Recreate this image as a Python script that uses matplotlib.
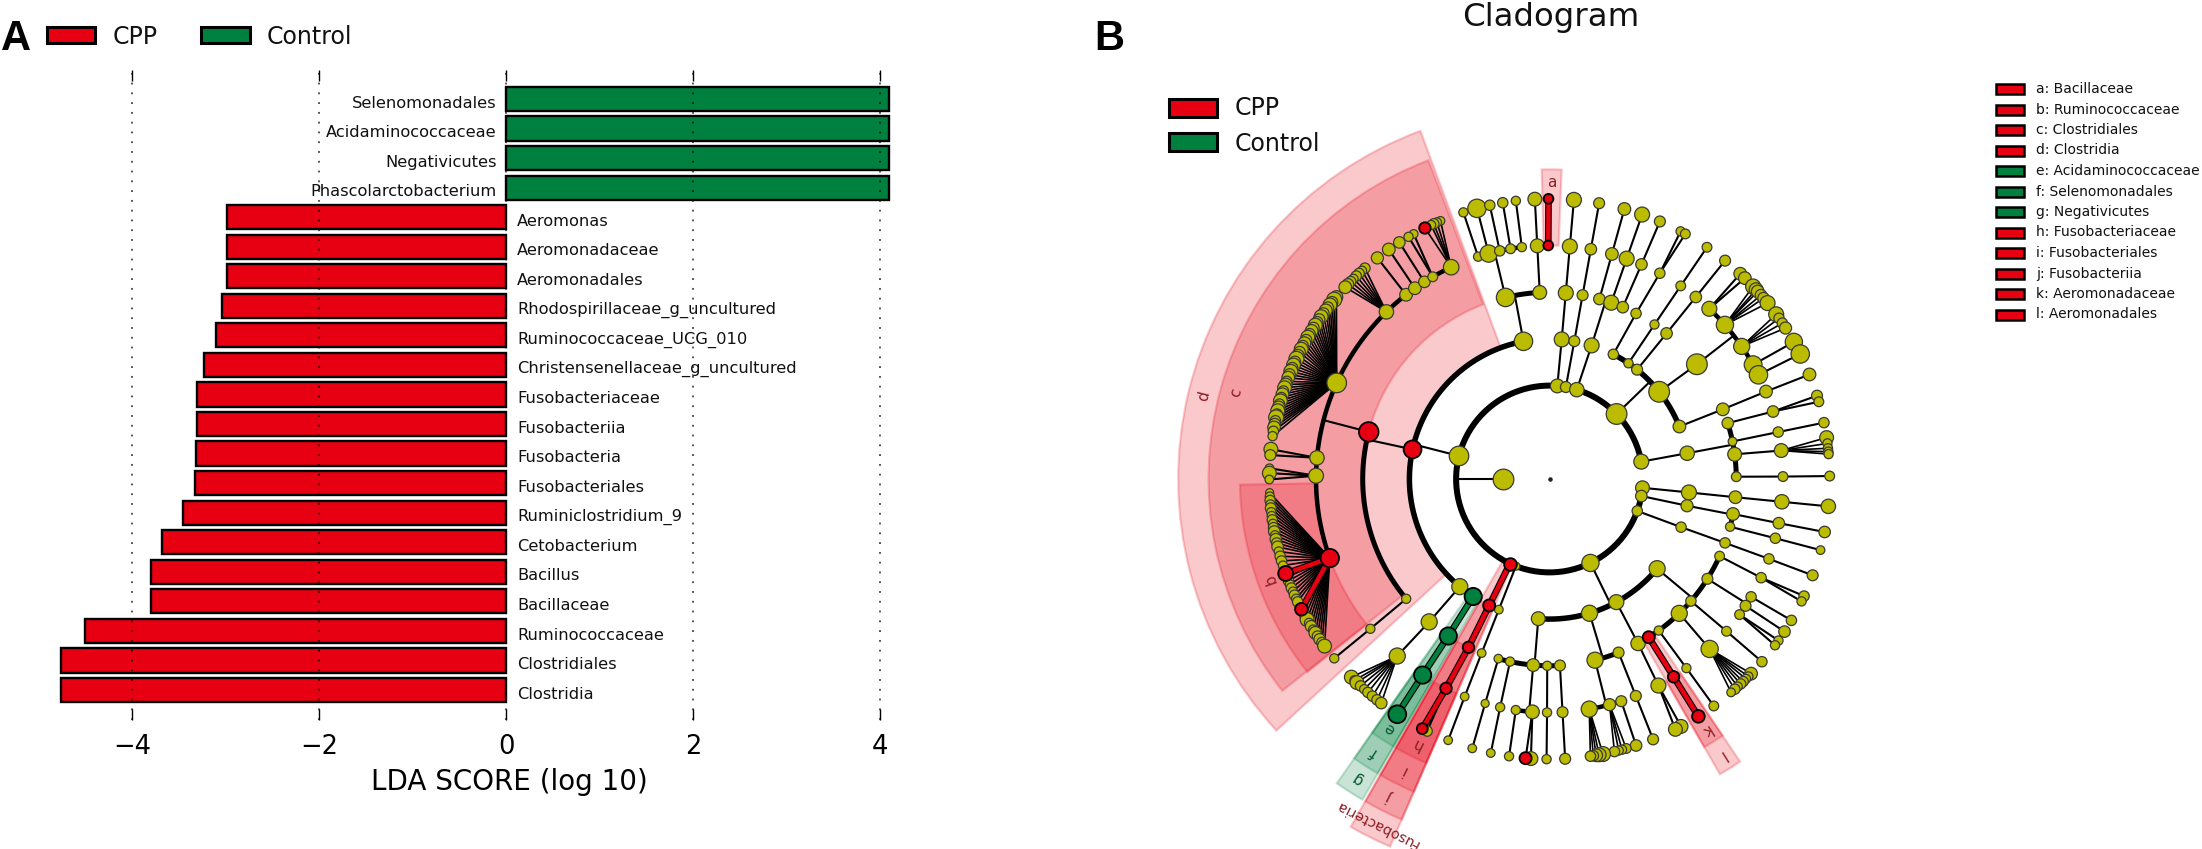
import numpy as np
import matplotlib
matplotlib.use("Agg")
import matplotlib.pyplot as plt
from matplotlib.patches import Rectangle

W, H = 2202, 849
RED, GREEN, OLIVE = "#e60012", "#00803e", "#bbbb00"

# ---------- Panel A: LDA scores ----------
bar_labels = ["Clostridia", "Clostridiales", "Ruminococcaceae", "Bacillaceae", "Bacillus",
              "Cetobacterium", "Ruminiclostridium_9", "Fusobacteriales", "Fusobacteria",
              "Fusobacteriia", "Fusobacteriaceae", "Christensenellaceae_g_uncultured",
              "Ruminococcaceae_UCG_010", "Rhodospirillaceae_g_uncultured", "Aeromonadales",
              "Aeromonadaceae", "Aeromonas", "Phascolarctobacterium", "Negativicutes",
              "Acidaminococcaceae", "Selenomonadales"]
bar_values = [-4.76, -4.76, -4.51, -3.80, -3.80, -3.68, -3.46, -3.33, -3.32, -3.31, -3.31,
              -3.23, -3.11, -3.04, -2.99, -2.99, -2.99, 4.09, 4.09, 4.09, 4.09]
x_ticks = [-4, -2, 0, 2, 4]
group_names = ["CPP", "Control"]

# ---------- Panel B: cladogram, one table per ring ----------
# (clockwise angle from the top in degrees, parent index on the inner ring, node diameter, class)
ring1 = [(-90, 0, 18)]
ring2 = [(95.4, 0, 12), (100.5, 0, 10), (110, 0, 9), (154, 0, 15), (201.1, 0, 7),
         (205.1, 0, 11, 'r'), (284.3, 0, 17), (364.8, 0, 12), (370.1, 0, 9.5), (377, 0, 12.5),
         (405.9, 0, 18), (439.3, 0, 13)]
ring3 = [(95.5, 0, 13), (101, 1, 10.5), (110.1, 2, 9), (129.8, 3, 14), (151.5, 3, 13), (163.4, 3, 14),
         (184.6, 3, 12), (-158.8, 4, 7.5), (-154.5, 5, 10.5, 'r'), (-147, 6, 15, 'g'), (-140.2, 6, 14),
         (-77.8, 6, 15.5, 'r'), (-10.7, 6, 16), (5, 7, 13), (10.2, 8, 9.5), (17.5, 9, 13), (27.1, 10, 9),
         (34.3, 10, 8), (38.7, 10, 9.5), (51.5, 10, 18), (68, 10, 11), (79.4, 11, 12.5)]
ring4 = [(95.6, 0, 11), (100.8, 1, 11), (104.8, 1, 8), (110, 2, 9), (114.4, 3, 8.5), (122.3, 3, 9.5),
         (130.8, 3, 9), (136, 3, 14), (144.2, 3, 8), (147.9, 3, 10.5, 'r'), (151.7, 4, 12.5), (158.3, 5, 9.5),
         (165.9, 5, 14), (176.8, 6, 9.5), (180.7, 6, 8), (185, 6, 11), (192.2, 6, 8), (195.9, 6, 7.5),
         (-158.7, 7, 7.5), (-154.3, 8, 10, 'r'), (-147.2, 9, 15, 'g'), (-139.9, 10, 14), (-129.9, 11, 8),
         (-75.4, 11, 17, 'r'), (-13.6, 12, 16), (-3, 12, 12), (5, 13, 13), (10.2, 14, 9.5), (15.5, 15, 10),
         (19.3, 15, 13), (23.1, 15, 10), (27.6, 16, 9), (34.2, 17, 8), (38.8, 18, 10), (52.1, 19, 18),
         (68.1, 20, 11), (72.6, 21, 10), (78.4, 21, 7.5), (82.4, 21, 12), (89.3, 21, 8.5)]
ring5 = [(95.6, 0, 12.5), (100.9, 1, 10), (104.7, 2, 9), (110, 3, 9), (115, 4, 9), (120.3, 5, 9),
         (122.9, 5, 9.5), (125.5, 5, 8.5), (130.7, 6, 8.5), (136.7, 7, 15), (144.1, 8, 8), (147.9, 9, 10, 'r'),
         (152.2, 10, 13), (158.3, 11, 9.5), (162.1, 12, 9.5), (165.1, 12, 10.5), (170.2, 12, 14),
         (176.8, 13, 9.5), (180.6, 14, 8), (184.2, 15, 12), (188.3, 15, 8), (192.2, 16, 8), (196, 17, 7),
         (-158.7, 18, 7.5), (-153.7, 19, 10, 'r'), (-147.1, 20, 15, 'g'), (-139.3, 21, 14), (-129.9, 22, 8),
         (-109.8, 23, 16, 'r'), (-89.2, 23, 13), (-84.8, 23, 12.5), (-65.7, 23, 17), (-44.3, 23, 12.5),
         (-37.9, 23, 11), (-35.2, 23, 11), (-32.4, 23, 10), (-30, 23, 8.5), (-24.9, 23, 13.5),
         (-17.8, 24, 8), (-15.1, 24, 15), (-12.3, 24, 9), (-9.6, 24, 8.5), (-6.8, 24, 8), (-3, 25, 12),
         (-0.3, 25, 8.5, 'r'), (5, 26, 13), (10.2, 27, 10), (15.5, 28, 11), (19.3, 29, 13), (23.2, 30, 10),
         (28.2, 31, 9), (34.2, 32, 8.5), (38.8, 33, 10), (43.2, 34, 13), (48.7, 34, 15), (55.4, 34, 14),
         (60.7, 34, 15.5), (63.5, 34, 16), (68, 35, 11), (73.2, 36, 10), (78.4, 37, 9), (83, 38, 12),
         (89.4, 39, 8.5)]
ring6_a = [(95.6, 0, 12.5), (100.9, 1, 10), (104.7, 2, 7.5), (110.1, 3, 9.5), (114.7, 4, 9), (115.9, 4, 8),
           (120.3, 5, 9), (123, 6, 10), (125.2, 7, 8), (126.4, 7, 8), (130.7, 8, 9),
           (134, 9, 11), (134.8, 9, 8), (135.5, 9, 8), (136.3, 9, 9), (137, 9, 9), (137.8, 9, 8), (138.6, 9, 9),
           (139.6, 9, 7.5), (144.1, 10, 8.5), (147.9, 11, 11, 'r'), (152, 12, 12), (153.3, 12, 12),
           (158.3, 13, 9.5), (162, 14, 10), (164.1, 15, 8.5), (165, 15, 8), (165.7, 15, 8), (166.6, 15, 9),
           (169, 16, 13), (169.8, 16, 12), (170.4, 16, 11), (171, 16, 9), (171.6, 16, 9), (176.8, 17, 9.5),
           (180.6, 18, 8), (183.8, 19, 12), (184.9, 19, 10.5, 'r'), (188.3, 20, 8), (192.1, 21, 7.5),
           (196, 22, 7.5), (-158.8, 23, 7.5), (-154.1, 24, 9), (-153, 24, 9.5, 'r'), (-147.1, 25, 15.5, 'g'),
           (-135, 26, 12), (-135.9, 26, 8), (-136.6, 26, 12), (-137.6, 26, 9), (-138.6, 26, 8), (-139.6, 26, 9),
           (-140.8, 26, 9), (-142, 26, 9), (-143.1, 26, 10), (-129.8, 27, 8)]
ring6_b = [(-92.8, 28, 7), (-93.6, 28, 8), (-94.4, 28, 9), (-95.2, 28, 8), (-96, 28, 9.5), (-96.8, 28, 8),
           (-97.6, 28, 8), (-98.4, 28, 9), (-99.2, 28, 8), (-100, 28, 9), (-100.8, 28, 10), (-101.6, 28, 8),
           (-102.4, 28, 10), (-103.2, 28, 9), (-104, 28, 10), (-105, 28, 8), (-106, 28, 9), (-107, 28, 9),
           (-108, 28, 8), (-110.5, 28, 8), (-111.3, 28, 9), (-112.1, 28, 8), (-112.9, 28, 9), (-113.7, 28, 8),
           (-114.5, 28, 9), (-115.3, 28, 8), (-116, 28, 9), (-118.5, 28, 8), (-119.3, 28, 9), (-120.1, 28, 12),
           (-120.9, 28, 8), (-121.7, 28, 10), (-122.5, 28, 8), (-123.3, 28, 11), (-124.1, 28, 9),
           (-124.9, 28, 10), (-125.7, 28, 9), (-126.6, 28, 12), (-109.7, 28, 13, 'r'), (-117.7, 28, 11, 'r')]
ring6_c = [(-49.5, 31, 11), (-50.2, 31, 13), (-50.9, 31, 10), (-51.6, 31, 12), (-52.3, 31, 10), (-53, 31, 11),
           (-53.8, 31, 10), (-54.6, 31, 12), (-55.3, 31, 10), (-56, 31, 10), (-56.7, 31, 12), (-57.4, 31, 10),
           (-58.1, 31, 11), (-58.9, 31, 10), (-59.6, 31, 12), (-60.3, 31, 10), (-61, 31, 11), (-61.7, 31, 10),
           (-62.4, 31, 12), (-63.1, 31, 10), (-63.9, 31, 11), (-64.6, 31, 13), (-65.3, 31, 10), (-66, 31, 12),
           (-66.7, 31, 10), (-67.4, 31, 12), (-68.1, 31, 10), (-68.8, 31, 11), (-69.6, 31, 9), (-70.3, 31, 11),
           (-71, 31, 12), (-71.7, 31, 9), (-72.4, 31, 11), (-73.1, 31, 9), (-73.8, 31, 12), (-74.5, 31, 9),
           (-75.2, 31, 11), (-75.9, 31, 12), (-76.6, 31, 9), (-77.3, 31, 13), (-78, 31, 9), (-78.7, 31, 10),
           (-79.4, 31, 11), (-80.2, 31, 9), (-81.2, 31, 8)]
ring6_d = [(-87.8, 29, 7.5), (-88.8, 29, 12), (-90.1, 29, 7.5), (-83.9, 30, 12), (-85.1, 30, 9.5),
           (-41.2, 32, 9), (-42, 32, 8), (-42.8, 32, 9), (-43.6, 32, 9), (-44.4, 32, 8), (-45.2, 32, 9),
           (-46, 32, 10), (-46.8, 32, 11), (-37.9, 33, 10.5), (-35, 34, 11), (-32.4, 35, 10), (-29, 36, 7.5),
           (-30.2, 36, 8), (-22.9, 37, 7.5), (-23.7, 37, 8), (-24.4, 37, 9), (-25, 37, 8), (-26.4, 37, 10, 'r'),
           (-17.9, 38, 8), (-15, 39, 16), (-12.3, 40, 9), (-9.6, 41, 9), (-6.9, 42, 8), (-3, 43, 12),
           (-0.2, 44, 8.5, 'r'), (5, 45, 13), (10.2, 46, 9.5), (15.5, 47, 11), (19.3, 48, 13), (23.2, 49, 9.5),
           (27.9, 50, 8), (29, 50, 8.5), (34.2, 51, 8.5), (38.8, 52, 9.5), (42.9, 53, 11), (44.2, 53, 11),
           (46.6, 54, 13), (47.5, 54, 12), (48, 54, 11), (49, 54, 10), (49.8, 54, 10), (51.1, 54, 13),
           (54, 55, 13), (55, 55, 9), (56.2, 55, 9), (57.4, 55, 10.5), (60.7, 56, 15), (63.5, 57, 16),
           (68.1, 58, 11), (72.7, 59, 9.5), (74, 59, 8.5), (78.4, 60, 9), (81.5, 61, 12), (82.7, 61, 8),
           (83.7, 61, 8), (84.4, 61, 8), (84.9, 61, 8), (89.4, 62, 8.5)]

# highlighted clades: letter, centre angle, width, inner ring, colour
clade_letters = ["a", "b", "c", "d", "e", "f", "g", "h", "i", "j", "k", "l", "Fusobacteria"]
clade_theta = [0.4, -109.8, -74.6, -76.5, -147.4, -147.4, -147.4, -153.4, -153.4, -153.4, 148, 148, -153.4]
clade_width = [3.7, 37.5, 107.6, 112.3, 4.7, 4.7, 4.7, 6.3, 6.3, 6.3, 4, 4, 6.3]
clade_ring = [5, 5, 4, 3, 5, 4, 3, 5, 4, 3, 5, 4, 2]
clade_color = ['r', 'r', 'r', 'r', 'g', 'g', 'g', 'r', 'r', 'r', 'r', 'r', 'r']
legend_names = ["Bacillaceae", "Ruminococcaceae", "Clostridiales", "Clostridia", "Acidaminococcaceae",
                "Selenomonadales", "Negativicutes", "Fusobacteriaceae", "Fusobacteriales", "Fusobacteriia",
                "Aeromonadaceae", "Aeromonadales"]

PX = 72 / 100  # points per pixel at 100 dpi
NODE_SCALE = 1.15
fig = plt.figure(figsize=(W / 100, H / 100), dpi=100, facecolor="white")
plt.rcParams["font.family"] = "DejaVu Sans"


def box(ax_fig, x0, y0, x1, y1, col, lw=2.2):
    ax_fig.add_artist(Rectangle((x0 / W, 1 - y1 / H), (x1 - x0) / W, (y1 - y0) / H, transform=ax_fig.transFigure,
                                facecolor=col, edgecolor="black", linewidth=lw))


# ---- Panel A
ax = fig.add_axes([57.5 / W, 1 - 720 / H, 834 / W, 650 / H])
ypos = np.arange(len(bar_values))
ax.barh(ypos, bar_values, height=0.82, color=[RED if v < 0 else GREEN for v in bar_values],
        edgecolor="black", linewidth=1.7, zorder=1)
ax.set_xlim(-4.8, 4.12)
ax.set_ylim(-1.015, 20.98)
ax.set_yticks([])
ax.set_xticks(x_ticks)
ax.tick_params(axis="x", direction="in", top=True, bottom=True, length=8, width=1, labelsize=18.5, pad=10)
for s in ax.spines.values():
    s.set_visible(False)
ax.set_axisbelow(False)
ax.grid(axis="x", color="black", linewidth=1.1, linestyle=(0, (1.2, 5.2)), alpha=0.85)
for y, lab, v in zip(ypos, bar_labels, bar_values):
    ax.text(0.115 if v < 0 else -0.1, y - 0.14, lab, ha="left" if v < 0 else "right", va="center",
            fontsize=11.7, color="#111111", zorder=6)
ax.set_xlabel("LDA SCORE (log 10)", fontsize=20, labelpad=6, x=0.5415)
box(fig, 47, 27, 95, 43, RED)
box(fig, 201, 27, 250, 43, GREEN)
fig.text(113 / W, 1 - 37 / H, group_names[0], fontsize=17, va="center", color="#111111")
fig.text(267 / W, 1 - 37 / H, group_names[1], fontsize=17, va="center", color="#111111")
fig.text(1 / W, 1 - 50 / H, "A", fontsize=30, fontweight="bold", family="Liberation Sans")
fig.text(1094 / W, 1 - 50 / H, "B", fontsize=30, fontweight="bold", family="Liberation Sans")

# ---- Panel B (polar axes; one radial unit is one taxonomic ring)
UNIT = 46.7
RMAX = 9.0
CX, CY = 1549.5, 479
side = RMAX * UNIT
pax = fig.add_axes([(CX - side) / W, 1 - (CY + side) / H, 2 * side / W, 2 * side / H], projection="polar")
pax.set_theta_zero_location("N")
pax.set_theta_direction(-1)
pax.set_rlim(0, RMAX)
pax.axis("off")
pax.patch.set_alpha(0)

outer = {5: 6.63, 4: 7.3, 3: 7.95, 2: 8.58}
label_r = {5: 6.34, 4: 6.96, 3: 7.62, 2: 8.27}
for lt, th, wd, ring, cc in zip(clade_letters, clade_theta, clade_width, clade_ring, clade_color):
    col = RED if cc == 'r' else GREEN
    pax.bar(np.radians(th), outer[ring] - ring, width=np.radians(wd), bottom=ring, color=col, alpha=0.21,
            edgecolor=col, linewidth=1.6, zorder=1, clip_on=False)
    pax.text(np.radians(th), label_r[ring], lt, rotation=-th, rotation_mode="anchor", ha="center", va="center",
             color="#8c1c24" if cc == 'r' else "#0a5a32", fontsize=10.3 if len(lt) > 1 else 11,
             zorder=2, clip_on=False)

rings = [ring1, ring2, ring3, ring4, ring5, ring6_a + ring6_b + ring6_c + ring6_d]
arc_lw = {2: 6.0, 3: 5.5, 4: 5.0, 5: 4.5}
arc_lw = {k: v * PX for k, v in arc_lw.items()}
HI = {'r': RED, 'g': GREEN}


def split(node):
    return node[0], node[1], node[2], (node[3] if len(node) > 3 else 'y')


for level in range(1, 6):
    kids = rings[level]
    for pi, pnode in enumerate(rings[level - 1]):
        pth, _, _, pc = split(pnode)
        own = [split(n) for n in kids if n[1] == pi]
        if not own:
            continue
        r_p, r_c = level, level + 1
        if len(own) == 1 or level == 5:
            # straight branches from the parent to each child
            for cth, _, _, cc in own:
                xs, ys = np.radians([pth, cth]), [r_p, r_c]
                if cc != 'y' and pc != 'y':
                    pax.plot(xs, ys, color="black", lw=4.8, zorder=3, solid_capstyle="round", clip_on=False)
                    pax.plot(xs, ys, color=HI[cc], lw=3.2, zorder=3.2, solid_capstyle="round", clip_on=False)
                else:
                    pax.plot(xs, ys, color="black", lw=1.2 if len(own) > 3 else 1.5, zorder=3, clip_on=False)
        else:
            # parent joins a thick arc running through its children
            lo, hi = min(c[0] for c in own), max(c[0] for c in own)
            th_arc = np.radians(np.linspace(lo, hi, 200))
            pax.plot(th_arc, np.full(200, r_c), color="black", lw=arc_lw[r_c], zorder=3, clip_on=False,
                     solid_capstyle="butt")
            pax.plot(np.radians([pth, pth]), [r_p, r_c], color="black", lw=1.5, zorder=3, clip_on=False)

# nodes, ring by ring: plain ones first
for level, nodes in enumerate(rings, start=1):
    parsed = [split(n) for n in nodes]
    plain = [n for n in parsed if n[3] == 'y']
    marked = [n for n in parsed if n[3] != 'y']
    if plain:
        pax.scatter(np.radians([n[0] for n in plain]), np.full(len(plain), level),
                    s=[(n[2] * PX * NODE_SCALE) ** 2 for n in plain], c=OLIVE, edgecolors="#3a3a30", linewidths=0.9,
                    zorder=5, clip_on=False)
    if marked:
        pax.scatter(np.radians([n[0] for n in marked]), np.full(len(marked), level),
                    s=[(n[2] * PX * NODE_SCALE) ** 2 for n in marked], c=[HI[n[3]] for n in marked],
                    edgecolors="black", linewidths=1.3, zorder=6, clip_on=False)
pax.scatter([0], [0], s=5, c="#222222", zorder=5)

# cladogram title and legends
fig.text(1551 / W, 1 - 26 / H, "Cladogram", fontsize=23.3, ha="center", va="baseline", color="#111111")
box(fig, 1169, 99, 1217, 116.5, RED)
box(fig, 1169, 133, 1217, 150.5, GREEN)
fig.text(1235 / W, 1 - 108 / H, group_names[0], fontsize=17, va="center", color="#111111")
fig.text(1235 / W, 1 - 144 / H, group_names[1], fontsize=17, va="center", color="#111111")
for i, (lt, name, cc) in enumerate(zip(clade_letters[:12], legend_names, clade_color[:12])):
    yc = 89 + i * 20.5
    box(fig, 1996, yc - 5, 2024, yc + 5, RED if cc == 'r' else GREEN, lw=1.8)
    fig.text(2036 / W, 1 - yc / H, f"{lt}: {name}", fontsize=10, va="center", color="#111111")

fig.savefig("out.png", dpi=100)
